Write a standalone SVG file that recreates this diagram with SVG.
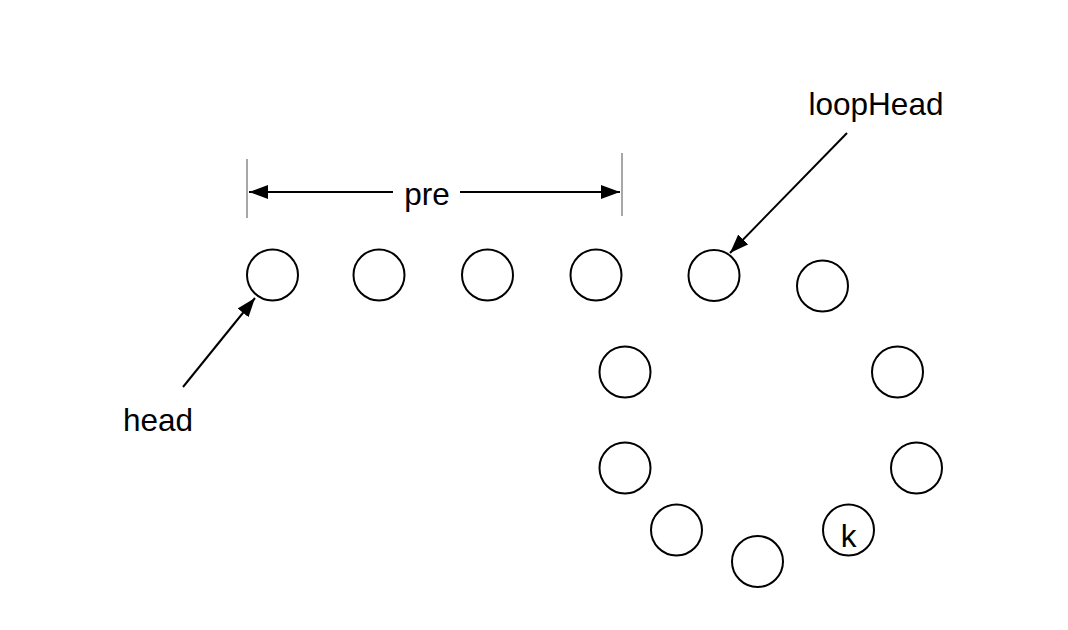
<svg xmlns="http://www.w3.org/2000/svg" width="1068" height="630" viewBox="0 0 1068 630">
<style>
.node{fill:#fff;stroke:#000;stroke-width:2}
.lbl{font-family:"Liberation Sans",Arial,sans-serif;font-size:31.5px;fill:#000}
.edge{stroke:#000;stroke-width:2;fill:none}
.tick{stroke:#8a8a8a;stroke-width:1.5}
</style>
<defs>
<marker id="ah" markerUnits="userSpaceOnUse" markerWidth="22" markerHeight="15" refX="19" refY="7" orient="auto">
<path d="M0,0 L19,7 L0,14 Z" fill="#000"/>
</marker>
</defs>
<rect width="1068" height="630" fill="#fff"/>
<g id="connectors">
<line class="tick" x1="247" y1="159" x2="247" y2="218"/>
<line class="tick" x1="622" y1="153" x2="622" y2="216"/>
<line class="edge" x1="393" y1="192" x2="249" y2="192" marker-end="url(#ah)"/>
<line class="edge" x1="460" y1="192" x2="620" y2="192" marker-end="url(#ah)"/>
<line class="edge" x1="847" y1="133" x2="730" y2="253" marker-end="url(#ah)"/>
<line class="edge" x1="183" y1="387" x2="255" y2="298" marker-end="url(#ah)"/>
</g>
<g id="label-pre"><text class="lbl" x="427" y="205" text-anchor="middle">pre</text></g>
<g id="label-loopHead"><text class="lbl" x="876" y="115" text-anchor="middle">loopHead</text></g>
<g id="label-head"><text class="lbl" x="158" y="431" text-anchor="middle">head</text></g>
<g id="n1"><circle class="node" cx="272.5" cy="275" r="25.5"/></g>
<g id="n2"><circle class="node" cx="379" cy="275" r="25.5"/></g>
<g id="n3"><circle class="node" cx="487.5" cy="275" r="25.5"/></g>
<g id="n4"><circle class="node" cx="596" cy="275" r="25.5"/></g>
<g id="n5"><circle class="node" cx="714" cy="275.5" r="25.5"/></g>
<g id="n6"><circle class="node" cx="822.5" cy="286" r="25.5"/></g>
<g id="n7"><circle class="node" cx="897.5" cy="372" r="25.5"/></g>
<g id="n8"><circle class="node" cx="916.5" cy="468" r="25.5"/></g>
<g id="n9"><circle class="node" cx="848.5" cy="530" r="25.5"/><text class="lbl" x="848.5" y="547" text-anchor="middle">k</text></g>
<g id="n10"><circle class="node" cx="757.5" cy="561.5" r="25.5"/></g>
<g id="n11"><circle class="node" cx="676.5" cy="530" r="25.5"/></g>
<g id="n12"><circle class="node" cx="625" cy="468" r="25.5"/></g>
<g id="n13"><circle class="node" cx="625" cy="372" r="25.5"/></g>
</svg>
